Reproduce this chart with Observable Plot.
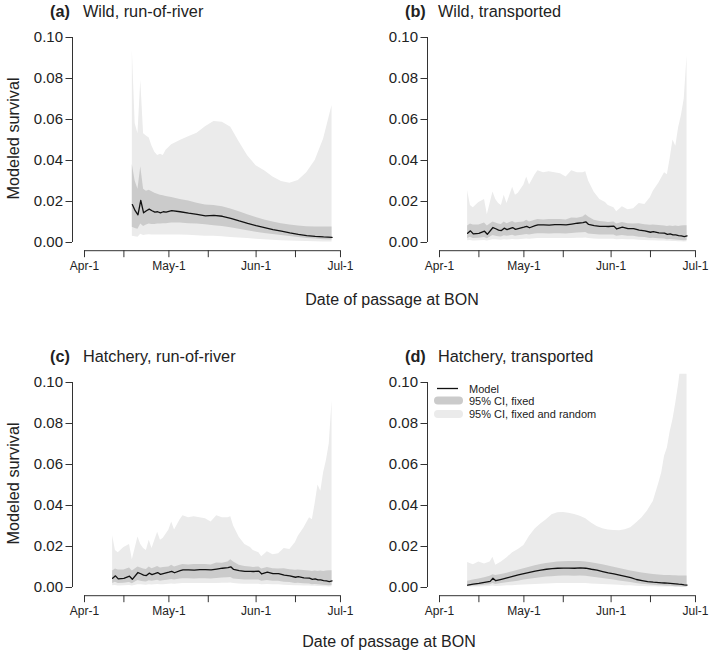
<!DOCTYPE html>
<html><head><meta charset="utf-8">
<script src="https://cdn.jsdelivr.net/npm/d3@7"></script>
<script src="https://cdn.jsdelivr.net/npm/@observablehq/plot@0.6"></script>
<style>
body{margin:0;background:#fff;}
#fig{position:relative;width:709px;height:651px;overflow:hidden;font-family:"Liberation Sans",Arial,sans-serif;}
#fig > svg{position:absolute;}
</style>
</head><body>
<div id="fig"></div>
<script>
// ---------- tick labels ----------
const xTickDates = ["2014-04-01","2014-04-15","2014-05-01","2014-05-15","2014-06-01","2014-06-15","2014-07-01"];
const xTickLabels = ["Apr-1","","May-1","","Jun-1","","Jul-1"];
const yTicks = [0, 0.02, 0.04, 0.06, 0.08, 0.10];
const panelTags = ["(a)","(b)","(c)","(d)"];
const panelNames = ["Wild, run-of-river","Wild, transported","Hatchery, run-of-river","Hatchery, transported"];
const legendLabels = ["Model","95% CI, fixed","95% CI, fixed and random"];

// ---------- (a) Wild, run-of-river : day 0 = Apr-1 ----------
const wildRorDays = [17,18,19,20,21,22,23,24,25,26,27,28,29,31,34,37,40,43,46,49,52,55,58,61,64,67,70,73,76,79,82,85,88];
const wildRorModel = [0.0185,0.0155,0.0135,0.0205,0.0145,0.0155,0.0163,0.0155,0.0148,0.0150,0.0145,0.0150,0.0148,0.0155,0.0150,0.0143,0.0137,0.0130,0.0132,0.0128,0.0118,0.0105,0.0093,0.0082,0.0073,0.0063,0.0055,0.0047,0.0040,0.0034,0.0030,0.0027,0.0025];
const wildRorFixedLo = [0.0075,0.0068,0.0065,0.0090,0.0078,0.0085,0.0090,0.0088,0.0088,0.0090,0.0090,0.0092,0.0092,0.0095,0.0095,0.0092,0.0090,0.0086,0.0082,0.0078,0.0072,0.0065,0.0057,0.0050,0.0044,0.0039,0.0034,0.0029,0.0024,0.0020,0.0017,0.0014,0.0012];
const wildRorFixedHi = [0.038,0.030,0.026,0.037,0.026,0.025,0.0255,0.0248,0.024,0.0235,0.023,0.0228,0.0225,0.022,0.021,0.0202,0.0192,0.0183,0.018,0.0175,0.0163,0.015,0.0135,0.0122,0.011,0.010,0.0092,0.0085,0.008,0.0077,0.0076,0.0076,0.0076];
const wildRorRandLo = [0.0030,0.0028,0.0026,0.0040,0.0034,0.0036,0.0038,0.0037,0.0037,0.0037,0.0037,0.0037,0.0037,0.0037,0.0036,0.0035,0.0033,0.0031,0.0030,0.0028,0.0025,0.0022,0.0019,0.0016,0.0013,0.0011,0.0009,0.0007,0.0006,0.0005,0.0004,0.0003,0.0003];
const wildRorRandHi = [0.094,0.058,0.053,0.079,0.053,0.052,0.051,0.047,0.044,0.0425,0.043,0.0425,0.045,0.0477,0.0497,0.0516,0.0533,0.0565,0.059,0.0586,0.0562,0.049,0.0423,0.0375,0.035,0.032,0.0298,0.0289,0.0302,0.034,0.040,0.0505,0.0668];

// ---------- (b) Wild, transported ----------
const wildTrDays = [10,11,12,14,16,17,19,20,21,22,23,24,26,27,28,30,31,32,34,35,37,39,41,43,45,47,49,51,52,53,55,57,59,60,62,63,65,67,69,71,73,75,76,78,80,81,82,83,84,85,86,87,88];
const wildTrModel = [0.0045,0.0057,0.0042,0.0045,0.0055,0.0040,0.0073,0.0067,0.0060,0.0058,0.0070,0.0063,0.0073,0.0064,0.0068,0.0075,0.0079,0.0072,0.0082,0.0086,0.0086,0.0085,0.0087,0.0087,0.0086,0.0090,0.0094,0.0097,0.0101,0.0088,0.0082,0.0079,0.0079,0.0078,0.0080,0.0066,0.0075,0.0068,0.0068,0.0060,0.0057,0.0050,0.0053,0.0047,0.0046,0.0040,0.0042,0.0037,0.0037,0.0034,0.0032,0.0029,0.0032];
const wildTrFixedLo = [0.0020,0.0026,0.0019,0.0021,0.0025,0.0018,0.0034,0.0031,0.0028,0.0027,0.0033,0.0030,0.0035,0.0031,0.0033,0.0037,0.0039,0.0036,0.0041,0.0043,0.0043,0.0042,0.0043,0.0043,0.0042,0.0044,0.0046,0.0047,0.0049,0.0042,0.0039,0.0037,0.0037,0.0036,0.0037,0.0030,0.0034,0.0030,0.0030,0.0026,0.0024,0.0020,0.0021,0.0018,0.0017,0.0014,0.0015,0.0013,0.0012,0.0011,0.0010,0.0009,0.0010];
const wildTrFixedHi = [0.008,0.009,0.0085,0.0085,0.0095,0.0080,0.0100,0.0095,0.0090,0.0088,0.0100,0.0092,0.0103,0.0095,0.0098,0.0100,0.0108,0.0100,0.0108,0.0112,0.0110,0.0112,0.0112,0.0112,0.0110,0.0120,0.0118,0.0125,0.0135,0.0125,0.0108,0.0102,0.0100,0.0098,0.0100,0.0090,0.0097,0.0092,0.0090,0.0092,0.0086,0.0084,0.0085,0.0083,0.0080,0.0078,0.0080,0.0078,0.0080,0.0078,0.0080,0.0082,0.0082];
const wildTrRandLo = [0.0008,0.0010,0.0007,0.0008,0.0010,0.0007,0.0014,0.0013,0.0012,0.0011,0.0014,0.0012,0.0015,0.0013,0.0014,0.0016,0.0017,0.0016,0.0018,0.0019,0.0019,0.0019,0.0019,0.0019,0.0019,0.0020,0.0021,0.0021,0.0022,0.0019,0.0017,0.0016,0.0016,0.0016,0.0016,0.0013,0.0015,0.0013,0.0013,0.0011,0.0010,0.0008,0.0009,0.0007,0.0007,0.0006,0.0006,0.0005,0.0005,0.0004,0.0004,0.0003,0.0004];
const wildTrRandHi = [0.0253,0.018,0.017,0.0195,0.021,0.0135,0.0246,0.021,0.019,0.018,0.023,0.019,0.027,0.023,0.024,0.028,0.032,0.028,0.033,0.035,0.034,0.0345,0.034,0.0335,0.032,0.035,0.034,0.034,0.0345,0.030,0.0245,0.021,0.0195,0.018,0.017,0.015,0.0175,0.016,0.0165,0.019,0.0185,0.022,0.025,0.029,0.034,0.033,0.041,0.050,0.047,0.056,0.062,0.070,0.091];

// ---------- (c) Hatchery, run-of-river : reads identical to (b) in the figure ----------
const hatchRorDays = wildTrDays;
const hatchRorModel = wildTrModel;
const hatchRorFixedLo = wildTrFixedLo;
const hatchRorFixedHi = wildTrFixedHi;
const hatchRorRandLo = wildTrRandLo;
const hatchRorRandHi = wildTrRandHi;

// ---------- (d) Hatchery, transported ----------
const hatchTrDays = [10,12,14,16,18,19,20,22,24,26,28,30,32,34,36,38,40,42,44,46,48,50,52,54,56,58,60,62,64,66,68,70,72,74,76,78,79,80,81,82,83,84,85,86,87,88];
const hatchTrModel = [0.0012,0.0016,0.0020,0.0025,0.0030,0.0045,0.0033,0.0040,0.0047,0.0054,0.0061,0.0068,0.0074,0.0080,0.0085,0.0089,0.0092,0.0094,0.0095,0.0095,0.0094,0.0096,0.0094,0.0089,0.0085,0.0078,0.0071,0.0066,0.0060,0.0054,0.0048,0.0039,0.0034,0.0029,0.0026,0.0024,0.0023,0.0022,0.0021,0.0020,0.0019,0.0018,0.0016,0.0015,0.0013,0.0012];
const hatchTrFixedLo = [0.0005,0.0007,0.0009,0.0011,0.0014,0.0020,0.0015,0.0019,0.0023,0.0027,0.0031,0.0036,0.0040,0.0044,0.0048,0.0051,0.0053,0.0055,0.0056,0.0056,0.0055,0.0056,0.0055,0.0051,0.0048,0.0044,0.0040,0.0036,0.0032,0.0028,0.0024,0.0019,0.0016,0.0013,0.0011,0.0009,0.0008,0.0007,0.0006,0.0006,0.0005,0.0004,0.0004,0.0003,0.0003,0.0002];
const hatchTrFixedHi = [0.0030,0.0036,0.0042,0.0048,0.0055,0.0062,0.0058,0.0064,0.0070,0.0077,0.0084,0.0092,0.0099,0.0106,0.0112,0.0117,0.0121,0.0124,0.0126,0.0127,0.0127,0.0127,0.0125,0.0121,0.0116,0.0111,0.0105,0.0099,0.0093,0.0087,0.0081,0.0076,0.0071,0.0067,0.0064,0.0061,0.0060,0.0059,0.0058,0.0058,0.0057,0.0057,0.0056,0.0056,0.0056,0.0056];
const hatchTrRandLo = [0.0002,0.0002,0.0003,0.0004,0.0005,0.0007,0.0005,0.0006,0.0008,0.0009,0.0011,0.0012,0.0014,0.0015,0.0016,0.0017,0.0018,0.0019,0.0019,0.0019,0.0019,0.0019,0.0019,0.0017,0.0016,0.0015,0.0013,0.0012,0.0011,0.0009,0.0008,0.0006,0.0005,0.0004,0.0004,0.0003,0.0003,0.0002,0.0002,0.0002,0.0002,0.0001,0.0001,0.0001,0.0001,0.0001];
const hatchTrRandHi = [0.0122,0.0111,0.0125,0.0115,0.0125,0.0147,0.0108,0.0125,0.0145,0.0170,0.0185,0.0205,0.0250,0.0285,0.0310,0.0330,0.0355,0.0365,0.0366,0.0362,0.0356,0.0348,0.0335,0.0315,0.0298,0.0287,0.0280,0.0278,0.0277,0.0282,0.0292,0.0315,0.0340,0.0375,0.0420,0.0510,0.0560,0.0640,0.0680,0.0760,0.0820,0.0900,0.0990,0.1100,0.1250,0.1400];

// ---------- build ----------
const DAY = 864e5;
const seasonStart = Date.UTC(2014, 3, 1);
const xDomain = [new Date(seasonStart - 4.27 * DAY), new Date(seasonStart + 95.27 * DAY)];
const yDomain = [-0.004, 0.104];
const xTicks = xTickDates.map(s => new Date(s + "T00:00:00Z"));
const FONT = '"Liberation Sans", Arial, Helvetica, sans-serif';
const LIGHT = "#ebebeb", DARK = "#cbcbcb", INK = "#222";

const panels = [
  {days: wildRorDays, model: wildRorModel, fLo: wildRorFixedLo, fHi: wildRorFixedHi, rLo: wildRorRandLo, rHi: wildRorRandHi, left: 0, top: 0},
  {days: wildTrDays, model: wildTrModel, fLo: wildTrFixedLo, fHi: wildTrFixedHi, rLo: wildTrRandLo, rHi: wildTrRandHi, left: 355, top: 0},
  {days: hatchRorDays, model: hatchRorModel, fLo: hatchRorFixedLo, fHi: hatchRorFixedHi, rLo: hatchRorRandLo, rHi: hatchRorRandHi, left: 0, top: 345},
  {days: hatchTrDays, model: hatchTrModel, fLo: hatchTrFixedLo, fHi: hatchTrFixedHi, rLo: hatchTrRandLo, rHi: hatchTrRandHi, left: 355, top: 345}
];

const fig = document.getElementById("fig");

panels.forEach(p => {
  const data = p.days.map((d, i) => ({
    date: new Date(seasonStart + d * DAY),
    model: p.model[i], fLo: p.fLo[i], fHi: p.fHi[i], rLo: p.rLo[i], rHi: p.rHi[i]
  }));
  const chart = Plot.plot({
    width: 354, height: 290,
    marginLeft: 72, marginRight: 2, marginTop: 28.8, marginBottom: 39.8,
    style: {fontFamily: FONT, background: "transparent", overflow: "visible", color: INK},
    x: {type: "utc", domain: xDomain, axis: null},
    y: {domain: yDomain, axis: null},
    marks: [
      Plot.areaY(data, {x: "date", y1: "rLo", y2: "rHi", fill: LIGHT, clip: true}),
      Plot.areaY(data, {x: "date", y1: "fLo", y2: "fHi", fill: DARK, clip: true}),
      Plot.lineY(data, {x: "date", y: "model", stroke: "#111", strokeWidth: 1.3}),
      Plot.ruleX([{x: xDomain[0], y1: yTicks[0], y2: yTicks[yTicks.length - 1]}], {x: "x", y1: "y1", y2: "y2", stroke: "#333", strokeWidth: 1}),
      Plot.ruleY([{y: yDomain[0], x1: xTicks[0], x2: xTicks[xTicks.length - 1]}], {y: "y", x1: "x1", x2: "x2", stroke: "#333", strokeWidth: 1}),
      Plot.axisY({ticks: yTicks, tickFormat: d3.format(".2f"), tickSize: 6.5, tickPadding: 3, fontSize: 15, label: null, color: INK, stroke: "#333"}),
      Plot.axisX({ticks: xTicks, tickFormat: d => xTickLabels[xTicks.findIndex(t => +t === +d)], tickSize: 7, tickPadding: 4, fontSize: 12, label: null, color: INK, stroke: "#333"})
    ]
  });
  chart.style.left = p.left + "px";
  chart.style.top = p.top + "px";
  fig.appendChild(chart);
});

// ---------- overlay: titles, axis labels, legend ----------
const ns = "http://www.w3.org/2000/svg";
const ov = document.createElementNS(ns, "svg");
ov.setAttribute("width", 709); ov.setAttribute("height", 651);
ov.style.left = "0px"; ov.style.top = "0px";
ov.style.fontFamily = FONT;
fig.appendChild(ov);
function txt(s, attrs) {
  const t = document.createElementNS(ns, "text");
  for (const k in attrs) t.setAttribute(k, attrs[k]);
  t.textContent = s;
  ov.appendChild(t);
  return t;
}
function ln(attrs) {
  const l = document.createElementNS(ns, "line");
  for (const k in attrs) l.setAttribute(k, attrs[k]);
  ov.appendChild(l);
}
panels.forEach((p, i) => {
  txt(panelTags[i], {x: p.left + 50, y: p.top + 17, "font-size": 16.3, "font-weight": "bold", fill: INK});
  txt(panelNames[i], {x: p.left + 83, y: p.top + 17, "font-size": 16.3, fill: INK});
});
[0, 345].forEach(top => {
  txt("Modeled survival", {transform: `translate(18.5,${top + 138.5}) rotate(-90)`, "text-anchor": "middle", "font-size": 16.3, fill: INK});
});
txt("Date of passage at BON", {x: 392, y: 305, "text-anchor": "middle", "font-size": 16, fill: INK});
txt("Date of passage at BON", {x: 389, y: 646.5, "text-anchor": "middle", "font-size": 16, fill: INK});

// legend (panel d)
ln({x1: 437, x2: 458, y1: 388.5, y2: 388.5, stroke: "#111", "stroke-width": 1.3});
ln({x1: 438, x2: 459, y1: 400.5, y2: 400.5, stroke: DARK, "stroke-width": 8, "stroke-linecap": "round"});
ln({x1: 438, x2: 459, y1: 414, y2: 414, stroke: LIGHT, "stroke-width": 8, "stroke-linecap": "round"});
txt(legendLabels[0], {x: 469, y: 392.5, "font-size": 11, fill: INK});
txt(legendLabels[1], {x: 469, y: 404.5, "font-size": 11, fill: INK});
txt(legendLabels[2], {x: 469, y: 418, "font-size": 11, fill: INK});
</script>
</body></html>
